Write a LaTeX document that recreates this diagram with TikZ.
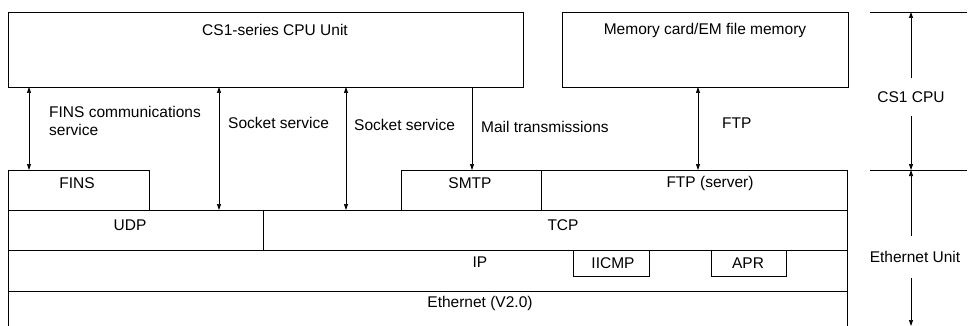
\documentclass[tikz,border=0pt]{standalone}
\usepackage{fontspec}
\setmainfont{Liberation Sans}
\usetikzlibrary{arrows.meta}
\begin{document}
\begin{tikzpicture}[x=1pt,y=-1pt,
  box/.style={draw, line width=0.8pt, anchor=north west, inner sep=0pt, outer sep=0pt},
  lbl/.style={font=\fontsize{15.5}{17.5}\selectfont, inner sep=0pt},
  arr/.style={line width=0.7pt, {Triangle[length=6pt,width=4pt]}-{Triangle[length=6pt,width=4pt]}},
  arrd/.style={line width=0.7pt, -{Triangle[length=6pt,width=4pt]}},
  dim/.style={line width=0.7pt}]
\useasboundingbox (0,0) rectangle (969,326);
% top boxes
\node[box, minimum width=515pt, minimum height=75pt] (cpu) at (8,12) {};
\node[box, minimum width=286pt, minimum height=75pt] (mem) at (562,12) {};
\node[lbl] (cput) at (275,30) {CS1-series CPU Unit};
\node[lbl] (memt) at (705,30) {Memory card/EM file memory};
% protocol boxes
\node[box, minimum width=141pt, minimum height=40pt] (fins) at (8,170) {};
\node[box, minimum width=140pt, minimum height=40pt] (smtp) at (401,170) {};
\node[box, minimum width=306pt, minimum height=40pt] (ftps) at (541,170) {};
\node[box, minimum width=255pt, minimum height=40pt] (udp) at (8,210) {};
\node[box, minimum width=584pt, minimum height=40pt] (tcp) at (263,210) {};
\node[box, minimum width=839pt, minimum height=41pt] (ip) at (8,250) {};
\node[box, minimum width=76pt, minimum height=26pt] (icmp) at (573,250) {};
\node[box, minimum width=75pt, minimum height=26pt] (apr) at (711,250) {};
\coordinate (ethl) at (8,326);
\coordinate (ethr) at (847,326);
\draw[line width=0.8pt] (ethl) -- (ip.south west) -- (ip.south east) -- (ethr);
\node[lbl] (finst) at (77,183) {FINS};
\node[lbl] (smtpt) at (470,183) {SMTP};
\node[lbl] (ftpst) at (710,183) {FTP (server)};
\node[lbl] (udpt) at (130,225) {UDP};
\node[lbl] (tcpt) at (563,225) {TCP};
\node[lbl] (ipt) at (480,262) {IP};
\node[lbl] (icmpt) at (613,263) {IICMP};
\node[lbl] (aprt) at (748,263) {APR};
\node[lbl] (etht) at (480,303) {Ethernet (V2.0)};
% service arrows
\draw[arr] (29,0 |- cpu.south) -- (29,0 |- fins.north);
\draw[arr] (219,0 |- cpu.south) -- (219,0 |- udp.north);
\draw[arr] (346,0 |- cpu.south) -- (346,0 |- tcp.north);
\draw[arrd] (472,0 |- cpu.south) -- (472,0 |- smtp.north);
\draw[arr] (698,0 |- mem.south) -- (698,0 |- ftps.north);
\node[lbl, anchor=west, align=left] (finss) at (49,121) {FINS communications\\service};
\node[lbl, anchor=west] (sock1) at (228,123) {Socket service};
\node[lbl, anchor=west] (sock2) at (354,125) {Socket service};
\node[lbl, anchor=west] (mail) at (481,127) {Mail transmissions};
\node[lbl, anchor=west] (ftpt) at (722,123) {FTP};
% right dimension
\coordinate (d1l) at (870,12);
\coordinate (d1r) at (967,12);
\coordinate (d2l) at (870,170);
\coordinate (d2r) at (967,170);
\coordinate (d3) at (911,326);
\draw[dim] (d1l) -- (d1r);
\draw[dim] (d2l) -- (d2r);
\node[lbl, fill=white, inner ysep=13pt] (cs1) at (911,97) {CS1 CPU};
\node[lbl, fill=white, inner ysep=15pt] (ethu) at (915,257) {Ethernet Unit};
\draw[arrd] (cs1.north -| 911,0) -- (911,12);
\draw[arrd] (cs1.south -| 911,0) -- (911,170);
\draw[arrd] (ethu.north -| 911,0) -- (911,170);
\draw[arrd] (ethu.south -| 911,0) -- (d3);
\end{tikzpicture}
\end{document}
